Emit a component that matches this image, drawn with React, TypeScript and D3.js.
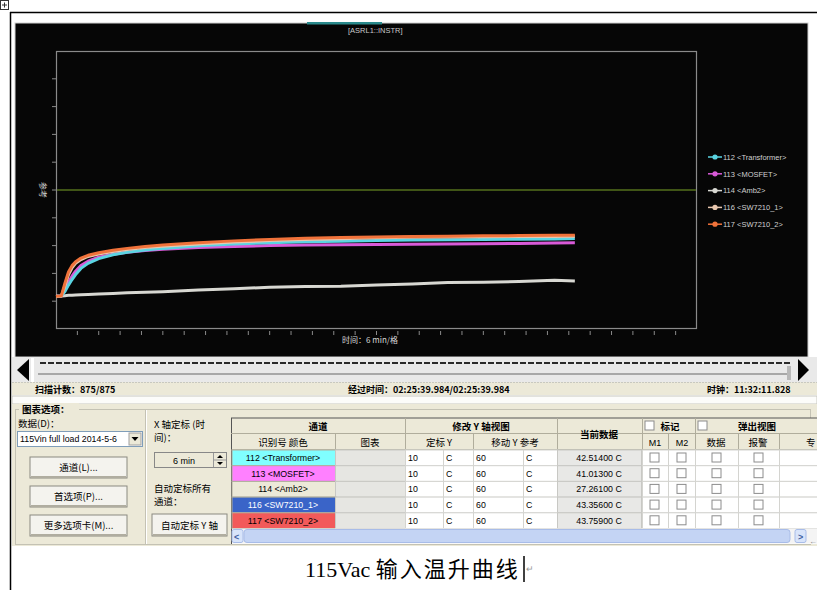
import React from 'react'
import * as d3 from 'd3'

// scan time in minutes (6 min / division, 30 divisions)
const minutes = [0, 1.5, 2.5, 3.5, 4.5, 5.5, 7, 9, 12, 16, 20, 25, 30, 40, 50, 60, 70, 80, 90, 100, 110, 120, 130, 140, 145.7]
const transformer = [21.8, 21.9, 23.5, 25.8, 27.8, 29.6, 31.8, 33.6, 35.3, 36.7, 37.6, 38.4, 39.0, 39.9, 40.6, 41.0, 41.4, 41.6, 41.8, 42.0, 42.1, 42.2, 42.3, 42.4, 42.51]
const mosfet = [21.8, 21.9, 24.2, 26.8, 29.0, 30.8, 32.8, 34.4, 35.8, 36.9, 37.6, 38.2, 38.7, 39.3, 39.7, 40.0, 40.2, 40.3, 40.4, 40.5, 40.6, 40.7, 40.8, 40.9, 41.01]
const amb2 = [21.8, 21.9, 22.0, 22.1, 22.1, 22.2, 22.3, 22.4, 22.6, 22.8, 23.0, 23.2, 23.4, 24.0, 24.5, 25.0, 25.3, 25.4, 25.8, 26.2, 26.7, 26.8, 27.1, 27.5, 27.26]
const sw7210a = [21.8, 21.9, 25.5, 29.5, 32.0, 33.6, 35.0, 36.1, 37.0, 37.9, 38.6, 39.3, 39.8, 40.6, 41.3, 41.8, 42.2, 42.5, 42.8, 43.0, 43.1, 43.2, 43.25, 43.3, 43.36]
const sw7210b = [21.8, 21.9, 26.5, 30.5, 32.8, 34.2, 35.5, 36.5, 37.4, 38.3, 39.0, 39.7, 40.2, 41.0, 41.7, 42.2, 42.6, 42.9, 43.1, 43.3, 43.4, 43.5, 43.6, 43.7, 43.76]

const channelNames = ['112 <Transformer>', '113 <MOSFET>', '114 <Amb2>', '116 <SW7210_1>', '117 <SW7210_2>']
const channelSeries = [transformer, mosfet, amb2, sw7210a, sw7210b]
const traceColors = ['#5ad4e2', '#d85ad8', '#d8d8d2', '#e8c6ae', '#f0723a']
const cellColors = ['#80ffff', '#ff80ff', '#ece9d8', '#3a64c8', '#f25a5a']
const cellTextColors = ['#000', '#000', '#000', '#fff', '#000']
const currentData = ['42.51400 C', '41.01300 C', '27.26100 C', '43.35600 C', '43.75900 C']
const drawOrder = [2, 1, 0, 3, 4]

const yPerDiv = 10
const yRef = 60
const minPerDiv = 6
const xDivs = 30
const yDivs = 10

const ui = '"Liberation Sans", "Noto Sans CJK SC", sans-serif'
const cjk = '"Noto Sans CJK SC", "Liberation Sans", sans-serif'

const Btn = ({ x, y, w, h, label }: { x: number; y: number; w: number; h: number; label: string }) => (
  <g>
    <rect x={x} y={y} width={w} height={h} fill="#f4f3ee" stroke="#8a8a80" />
    <line x1={x + 1} y1={y + h - 1} x2={x + w - 1} y2={y + h - 1} stroke="#b0ada0" strokeWidth={2} />
    <text x={x + w / 2} y={y + h / 2 + 3.5} textAnchor="middle" fontSize={9.5} fontFamily={cjk} fill="#000">{label}</text>
  </g>
)

const Check = ({ x, y }: { x: number; y: number }) => (
  <rect x={x} y={y} width={9} height={9} fill="#fff" stroke="#8c8c8c" />
)

export default function App() {
  const x = d3.scaleLinear().domain([0, xDivs * minPerDiv]).range([56, 697])
  const y = d3.scaleLinear().domain([yRef - (yDivs / 2) * yPerDiv, yRef + (yDivs / 2) * yPerDiv]).range([329, 51])
  const line = d3.line<number>().x((_, i) => x(minutes[i])).y(d => y(d))

  const yTicks = d3.range(1, yDivs).map(k => y.domain()[0] + k * yPerDiv)
  const xTicks = d3.range(1, xDivs).map(k => k * minPerDiv)

  // table geometry
  const tx0 = 231
  const rowTop = 450
  const rowH = 15.7
  const vCols = [405, 443, 473, 523, 557]

  return (
    <svg width={817} height={590} style={{ position: 'absolute', left: 0, top: 0, background: '#fff' }}>
      {/* document frame */}
      <rect x={0.5} y={0.5} width={8} height={9} fill="#fff" stroke="#333" />
      <path d="M2,5 H7 M4.5,2.5 V7.5" stroke="#333" />
      <line x1={10} y1={12.5} x2={817} y2={12.5} stroke="#000" strokeWidth={1.5} />
      <line x1={10.5} y1={12} x2={10.5} y2={590} stroke="#000" strokeWidth={1.5} />

      {/* chart panel */}
      <rect x={15} y={23} width={793} height={334} fill="#060606" stroke="#cfcfcf" />
      <rect x={307} y={22} width={75} height={2.5} fill="#2a8a8c" />
      <text x={348} y={33} fontSize={7.5} fontFamily={ui} fill="#c8c8c8">[ASRL1::INSTR]</text>

      <rect x={56.5} y={51.5} width={640} height={277} fill="none" stroke="#8a8a8a" strokeWidth={1.2} />
      {yTicks.map(t => (
        <line key={t} x1={52} x2={56} y1={y(t)} y2={y(t)} stroke="#8a8a8a" />
      ))}
      {xTicks.map(t => (
        <line key={t} x1={x(t)} x2={x(t)} y1={331} y2={335} stroke="#8a8a8a" />
      ))}
      <text transform="translate(40,190) rotate(90)" textAnchor="middle" fontSize={8} fontFamily={cjk} fill="#d0d0d0">参考</text>
      <text x={370} y={343} textAnchor="middle" fontSize={8} fontFamily={cjk} fill="#d8d8d8">时间：6 min/格</text>

      {/* reference line */}
      <line x1={57} x2={696} y1={y(yRef)} y2={y(yRef)} stroke="#55701c" strokeWidth={1.5} />

      {drawOrder.map(i => (
        <path key={i} d={line(channelSeries[i]) || ''} fill="none" stroke={traceColors[i]} strokeWidth={3} strokeLinejoin="round" />
      ))}

      {/* legend */}
      {channelNames.map((n, i) => {
        const ly = 157 + i * 16.8
        return (
          <g key={n}>
            <line x1={708} x2={722} y1={ly} y2={ly} stroke={traceColors[i]} strokeWidth={1.5} />
            <circle cx={715} cy={ly} r={2.6} fill={traceColors[i]} />
            <text x={723} y={ly + 2.8} fontSize={7.5} fontFamily={ui} fill="#d0d0d0">{n}</text>
          </g>
        )
      })}

      {/* scroll strip */}
      <rect x={12} y={357} width={805} height={25} fill="#e9e9e9" />
      <polygon points="17,370 29,359 29,381" fill="#000" />
      <polygon points="809,370 798,359 798,381" fill="#000" />
      <rect x={31} y={358} width={3} height={24} fill="#fff" />
      <line x1={40} x2={790} y1={363} y2={363} stroke="#2a2a2a" strokeWidth={2} strokeDasharray="6 2" />
      <line x1={38} x2={790} y1={374} y2={374} stroke="#a8a8a8" strokeWidth={2} />
      <rect x={787} y={366} width={4} height={14} fill="#b8b8b8" />

      {/* status bar */}
      <rect x={12} y={382} width={805} height={13} fill="#ece9d8" />
      <line x1={12} x2={817} y1={382.5} y2={382.5} stroke="#c8c8c0" strokeDasharray="2 1" />
      <text x={35} y={392.5} fontSize={9} fontWeight="bold" fontFamily={cjk} fill="#000">扫描计数：875/875</text>
      <text x={348} y={392.5} fontSize={9} fontWeight="bold" fontFamily={cjk} fill="#000">经过时间：02:25:39.984/02:25:39.984</text>
      <text x={707} y={392.5} fontSize={9} fontWeight="bold" fontFamily={cjk} fill="#000">时钟：11:32:11.828</text>
      <rect x={12} y={396} width={805} height={8} fill="#fcfcfa" stroke="#c8c8c0" />

      {/* options panel */}
      <rect x={12} y={404} width={805} height={142} fill="#ece9d8" />
      <rect x={15.5} y={409.5} width={795} height={135} fill="none" stroke="#c4c2b4" />
      <line x1={145.5} x2={145.5} y1={410} y2={544} stroke="#c4c2b4" />
      <line x1={146.5} x2={146.5} y1={410} y2={544} stroke="#fff" />
      <rect x={19} y={403} width={60} height={12} fill="#ece9d8" />
      <text x={22} y={413} fontSize={9.5} fontWeight="bold" fontFamily={cjk} fill="#000">图表选项：</text>
      <text x={18} y={427} fontSize={9.5} fontFamily={cjk} fill="#000">数据(D)：</text>
      <rect x={17.5} y={431.5} width={125} height={15} fill="#fff" stroke="#7f9db9" />
      <text x={20} y={442} fontSize={8.8} fontFamily={ui} fill="#000">115Vin full load 2014-5-6</text>
      <rect x={129} y={433} width={12} height={12} fill="#ece9d8" stroke="#a0a0a0" />
      <polygon points="131.5,437 138.5,437 135,441" fill="#000" />
      <Btn x={30} y={457} w={97} h={21} label="通道(L)..." />
      <Btn x={30} y={486} w={97} h={21} label="首选项(P)..." />
      <Btn x={30} y={515} w={97} h={21} label="更多选项卡(M)..." />

      <text x={154} y={428} fontSize={9.5} fontFamily={cjk} fill="#000">X 轴定标 (时</text>
      <text x={154} y={441} fontSize={9.5} fontFamily={cjk} fill="#000">间)：</text>
      <rect x={154.5} y={452.5} width={72} height={15} fill="#ece9d8" stroke="#888" />
      <text x={184} y={463.5} textAnchor="middle" fontSize={9} fontFamily={ui} fill="#000">6 min</text>
      <line x1={213.5} x2={213.5} y1={453} y2={467} stroke="#999" />
      <line x1={214} x2={226} y1={460} y2={460} stroke="#999" />
      <polygon points="217,458 223,458 220,455" fill="#000" />
      <polygon points="217,462 223,462 220,465" fill="#000" />
      <text x={154} y={492} fontSize={9.5} fontFamily={cjk} fill="#000">自动定标所有</text>
      <text x={154} y={505} fontSize={9.5} fontFamily={cjk} fill="#000">通道：</text>
      <Btn x={152} y={514} w={75} h={22} label="自动定标 Y 轴" />

      {/* channel table */}
      <rect x={tx0} y={418} width={586} height={126} fill="#fff" />
      <rect x={tx0} y={418} width={586} height={32} fill="#ece9d8" />
      <line x1={tx0} x2={817} y1={418} y2={418} stroke="#555" />
      <line x1={tx0 + 0.5} x2={tx0 + 0.5} y1={418} y2={544} stroke="#555" />
      <line x1={tx0} x2={817} y1={433.5} y2={433.5} stroke="#b0ad9c" />
      <line x1={tx0} x2={817} y1={450} y2={450} stroke="#8c8a7c" />
      {[335, 405, 473, 557, 642, 668, 695, 738, 779].map(cx => (
        <line key={cx} x1={cx + 0.5} x2={cx + 0.5} y1={[335, 473, 668, 738, 779].includes(cx) ? 434 : 418} y2={450} stroke="#b0ad9c" />
      ))}
      <text x={318} y={429.5} textAnchor="middle" fontSize={9.5} fontWeight="bold" fontFamily={cjk}>通道</text>
      <text x={481} y={429.5} textAnchor="middle" fontSize={9.5} fontWeight="bold" fontFamily={cjk}>修改 Y 轴视图</text>
      <text x={599} y={438} textAnchor="middle" fontSize={9.5} fontWeight="bold" fontFamily={cjk}>当前数据</text>
      <Check x={645} y={421} />
      <text x={670} y={429.5} textAnchor="middle" fontSize={9.5} fontWeight="bold" fontFamily={cjk}>标记</text>
      <Check x={698} y={421} />
      <text x={757} y={429.5} textAnchor="middle" fontSize={9.5} fontWeight="bold" fontFamily={cjk}>弹出视图</text>
      <text x={283} y={446} textAnchor="middle" fontSize={9.5} fontFamily={cjk}>识别号 颜色</text>
      <text x={370} y={446} textAnchor="middle" fontSize={9.5} fontFamily={cjk}>图表</text>
      <text x={439} y={446} textAnchor="middle" fontSize={9.5} fontFamily={cjk}>定标 Y</text>
      <text x={515} y={446} textAnchor="middle" fontSize={9.5} fontFamily={cjk}>移动 Y 参考</text>
      <text x={655} y={446} textAnchor="middle" fontSize={9} fontFamily={ui}>M1</text>
      <text x={682} y={446} textAnchor="middle" fontSize={9} fontFamily={ui}>M2</text>
      <text x={716} y={446} textAnchor="middle" fontSize={9.5} fontFamily={cjk}>数据</text>
      <text x={758} y={446} textAnchor="middle" fontSize={9.5} fontFamily={cjk}>报警</text>
      <text x={806} y={446} fontSize={9.5} fontFamily={cjk}>专</text>

      {channelNames.map((n, i) => {
        const ry = rowTop + i * rowH
        return (
          <g key={n}>
            <rect x={tx0 + 1} y={ry} width={104} height={rowH} fill={cellColors[i]} stroke="#b0ad9c" />
            <text x={283} y={ry + 11} textAnchor="middle" fontSize={8.8} fontFamily={ui} fill={cellTextColors[i]}>{n}</text>
            <rect x={335.5} y={ry} width={70} height={rowH} fill="#e6e6e2" stroke="#c8c8c4" />
            {vCols.slice(0, 4).map((cx, j) => (
              <g key={cx}>
                <rect x={cx + 0.5} y={ry} width={vCols[j + 1] - cx} height={rowH} fill="#fff" stroke="#d4d4d0" />
                <text x={cx + 3} y={ry + 11} fontSize={8.8} fontFamily={ui} fill="#000">{j % 2 === 1 ? 'C' : j === 0 ? String(yPerDiv) : String(yRef)}</text>
              </g>
            ))}
            <rect x={557.5} y={ry} width={84} height={rowH} fill="#e8e8e6" stroke="#c8c8c4" />
            <text x={599} y={ry + 11} textAnchor="middle" fontSize={8.8} fontFamily={ui} fill="#000">{currentData[i]}</text>
            {[642, 668, 695, 738, 779].map(cx => (
              <rect key={cx} x={cx + 0.5} y={ry} width={cx === 779 ? 40 : cx === 642 ? 26 : cx === 668 ? 27 : cx === 695 ? 43 : 41} height={rowH} fill="#fff" stroke="#d4d4d0" />
            ))}
            {[650, 677, 712, 754].map(cx => (
              <Check key={cx} x={cx} y={ry + 3} />
            ))}
          </g>
        )
      })}
      {/* table scrollbar */}
      <rect x={tx0 + 1} y={528.5} width={585} height={15} fill="#f4f4f4" />
      <rect x={244} y={529.5} width={546} height={13} rx={3} fill="#c4d4f4" stroke="#a8bce8" />
      <rect x={232} y={529.5} width={11} height={13} rx={2} fill="#d8e4fa" stroke="#a8bce8" />
      <text x={234} y={539.5} fontSize={9} fontWeight="bold" fill="#4060a0" fontFamily={ui}>&lt;</text>
      <rect x={795} y={529.5} width={11} height={13} rx={2} fill="#d8e4fa" stroke="#a8bce8" />
      <text x={798} y={539.5} fontSize={9} fontWeight="bold" fill="#4060a0" fontFamily={ui}>&gt;</text>
      <text x={809} y={544} fontSize={8} fill="#888" fontFamily={ui}>←</text>

      {/* caption */}
      <text x={305} y={577} fontSize={22} fill="#000">
        <tspan fontFamily='"Liberation Serif", serif'>115Vac </tspan>
        <tspan fontFamily={cjk} letterSpacing={2}>输入温升曲线</tspan>
      </text>
      <line x1={524} x2={524} y1={556} y2={582} stroke="#000" strokeWidth={1.5} />
      <text x={526} y={572} fontSize={9} fill="#999" fontFamily={ui}>↵</text>
    </svg>
  )
}
